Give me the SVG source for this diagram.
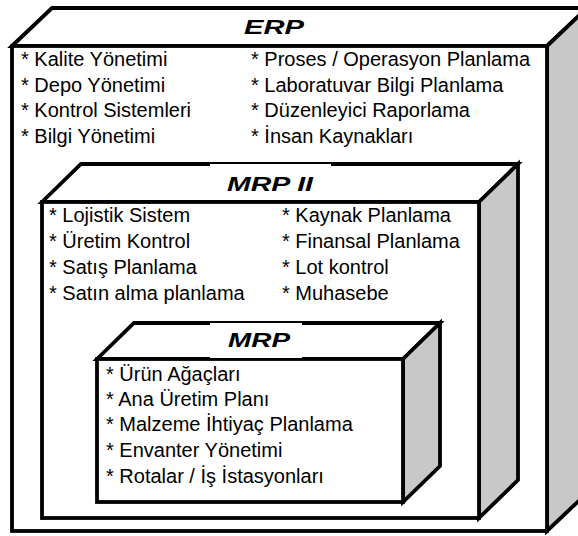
<svg xmlns="http://www.w3.org/2000/svg" width="578" height="536" viewBox="0 0 578 536">
  <style>
    .edge { stroke: #000; stroke-width: 3.8; stroke-linejoin: miter; }
    .face { fill: #fff; }
    .side { fill: #c8c8c8; }
    .item { font-family: "Liberation Sans", Arial, sans-serif; font-size: 20px; fill: #000; }
    .title { font-family: "Liberation Sans", Arial, sans-serif; font-size: 21px; font-weight: bold; font-style: italic; fill: #000; text-anchor: middle; }
    .cover { fill: #fff; stroke: none; }
  </style>
  <rect width="578" height="536" fill="#fff"/>

  <!-- outer block: ERP -->
  <g id="erp">
    <polygon class="face edge" points="12,46 52,8 587,8 547,46"/>
    <polygon class="side edge" points="547,46 587,8 587,493 547,531"/>
    <rect class="face edge" x="12" y="46" width="535" height="485"/>
    <text class="title" x="274" y="34" textLength="60" lengthAdjust="spacingAndGlyphs">ERP</text>
    <text class="item" x="21" y="66">* Kalite Yönetimi</text>
    <text class="item" x="21" y="92">* Depo Yönetimi</text>
    <text class="item" x="21" y="117">* Kontrol Sistemleri</text>
    <text class="item" x="21" y="143">* Bilgi Yönetimi</text>
    <text class="item" x="251" y="66">* Proses / Operasyon Planlama</text>
    <text class="item" x="251" y="92">* Laboratuvar Bilgi Planlama</text>
    <text class="item" x="251" y="117">* Düzenleyici Raporlama</text>
    <text class="item" x="251" y="143">* İnsan Kaynakları</text>
  </g>

  <!-- middle block: MRP II -->
  <g id="mrp2">
    <polygon class="face edge" points="42,202 81,164 518,164 479,202"/>
    <polygon class="side edge" points="479,202 518,164 518,480 479,518"/>
    <rect class="face edge" x="42" y="202" width="437" height="316"/>
    <rect class="cover" x="210" y="164" width="121" height="35"/>
    <text class="title" x="270" y="191" textLength="86" lengthAdjust="spacingAndGlyphs">MRP II</text>
    <text class="item" x="49" y="222">* Lojistik Sistem</text>
    <text class="item" x="49" y="248">* Üretim Kontrol</text>
    <text class="item" x="49" y="274">* Satış Planlama</text>
    <text class="item" x="49" y="300">* Satın alma planlama</text>
    <text class="item" x="282" y="222">* Kaynak Planlama</text>
    <text class="item" x="282" y="248">* Finansal Planlama</text>
    <text class="item" x="282" y="274">* Lot kontrol</text>
    <text class="item" x="282" y="300">* Muhasebe</text>
  </g>

  <!-- inner block: MRP -->
  <g id="mrp">
    <polygon class="face edge" points="97,359 134,323 440,323 403,359"/>
    <polygon class="side edge" points="403,359 440,323 440,466 403,502"/>
    <rect class="face edge" x="97" y="359" width="306" height="143"/>
    <rect class="cover" x="210" y="323" width="92" height="35"/>
    <text class="title" x="259" y="347" textLength="62" lengthAdjust="spacingAndGlyphs">MRP</text>
    <text class="item" x="106" y="381">* Ürün Ağaçları</text>
    <text class="item" x="106" y="406">* Ana Üretim Planı</text>
    <text class="item" x="106" y="431">* Malzeme İhtiyaç Planlama</text>
    <text class="item" x="106" y="457">* Envanter Yönetimi</text>
    <text class="item" x="106" y="483">* Rotalar / İş İstasyonları</text>
  </g>
</svg>
